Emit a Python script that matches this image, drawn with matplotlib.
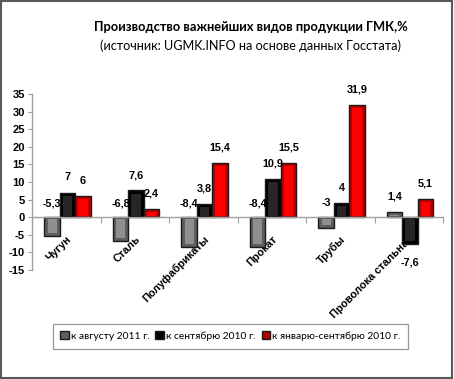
import matplotlib
matplotlib.use("Agg")
import matplotlib.pyplot as plt
import numpy as np
from matplotlib.patches import Rectangle

categories = ["Чугун", "Сталь", "Полуфабрикаты", "Прокат", "Трубы", "Проволока стальная"]
series_names = ["к августу 2011 г.", "к сентябрю 2010 г.", "к январю-сентябрю 2010 г."]
aug_2011 = [-5.3, -6.8, -8.4, -8.4, -3.0, 1.4]
sep_2010 = [7.0, 7.6, 3.8, 10.9, 4.0, -7.6]
jan_sep_2010 = [6.0, 2.4, 15.4, 15.5, 31.9, 5.1]
label_texts = [
    ["-5,3", "-6,8", "-8,4", "-8,4", "-3", "1,4"],
    ["7", "7,6", "3,8", "10,9", "4", "-7,6"],
    ["6", "2,4", "15,4", "15,5", "31,9", "5,1"],
]
yticks = list(range(-15, 40, 5))

face_dark = ["#5e5e5e", "#000000", "#b80000"]
face_light = ["#8f8f8f", "#262626", "#ff0000"]

plt.rcParams['font.family'] = ['Liberation Sans', 'DejaVu Sans']

fig = plt.figure(figsize=(4.54, 3.79), dpi=100)
ax = fig.add_axes([0.0705, 0.2876, 0.9053, 0.4644])

data = [aug_2011, sep_2010, jan_sep_2010]
n = len(categories)
x = np.arange(n)
w = 0.226
offsets = [-w, 0.0, w]

for si, vals in enumerate(data):
    pos = x + offsets[si] + 0.02
    ax.bar(pos, vals, width=w, color=face_dark[si], edgecolor="#1a1a1a",
           linewidth=1.0, zorder=3, label=series_names[si])
    # bevel highlight (inner face)
    inner = [np.sign(v) * max(abs(v) - 0.9, 0.0) for v in vals]
    base = [np.sign(v) * 0.45 for v in vals]
    ax.bar(pos, [iv - b for iv, b in zip(inner, base)], bottom=base, width=w * 0.6,
           color=face_light[si], linewidth=0, zorder=4)
    for i, v in enumerate(vals):
        if v >= 0:
            yv, dy = v, 11
        elif si == 0:
            yv, dy = 0, 10
        else:
            yv, dy = v, -13
        ax.annotate(label_texts[si][i], (pos[i], yv), xytext=(0, dy),
                    textcoords="offset points", ha="center", va="center",
                    fontsize=7.8, fontweight="bold", zorder=6)

ax.set_xlim(-0.5, n - 0.5)
ax.set_ylim(-15, 35)
ax.set_yticks(yticks)
ax.set_yticklabels([str(t) for t in yticks], fontsize=8, fontweight="bold")

ax.spines['bottom'].set_position(('data', 0))
ax.spines['top'].set_visible(False)
ax.spines['right'].set_visible(False)
for s in ['bottom', 'left']:
    ax.spines[s].set_color("#a0a0a0")
    ax.spines[s].set_linewidth(1.0)
ax.spines['bottom'].set_zorder(5)

ax.set_xticks(np.arange(n + 1) - 0.5)
ax.set_xticklabels([])
ax.set_xticks(x, minor=True)
ax.set_xticklabels(categories, minor=True, rotation=45, ha="right",
                   rotation_mode="anchor", fontsize=7.8, fontweight="bold")
ax.tick_params(axis='x', which='major', direction='out', length=4, color="#a0a0a0")
ax.tick_params(axis='x', which='minor', length=0, pad=12)
ax.tick_params(axis='y', direction='out', length=3, color="#a0a0a0", pad=2)
ax.patch.set_alpha(0)

fig.text(0.553, 0.928, "Производство важнейших видов продукции ГМК,%",
         ha="center", va="center", fontsize=9.3, fontweight="bold",
         family=["Lato", "DejaVu Sans"])
fig.text(0.551, 0.880, "(источник: UGMK.INFO на основе данных Госстата)",
         ha="center", va="center", fontsize=9.1, family=["Lato", "DejaVu Sans"])

handles, labels = ax.get_legend_handles_labels()
leg = fig.legend(handles, labels, loc="center", bbox_to_anchor=(0.507, 0.113),
                 ncol=3, frameon=True, fancybox=False,
                 handlelength=0.8, handleheight=0.8, handletextpad=0.2,
                 columnspacing=0.6, borderpad=0.75,
                 prop={'family': ['Lato', 'DejaVu Sans'], 'size': 7.4})
leg.get_frame().set_edgecolor("#7f7f7f")
leg.get_frame().set_linewidth(0.9)

fig.patches.append(Rectangle((0.002, 0.003), 0.994, 0.994, transform=fig.transFigure,
                             fill=False, edgecolor="#595959", linewidth=1.5))

fig.savefig("out.png", dpi=100)
